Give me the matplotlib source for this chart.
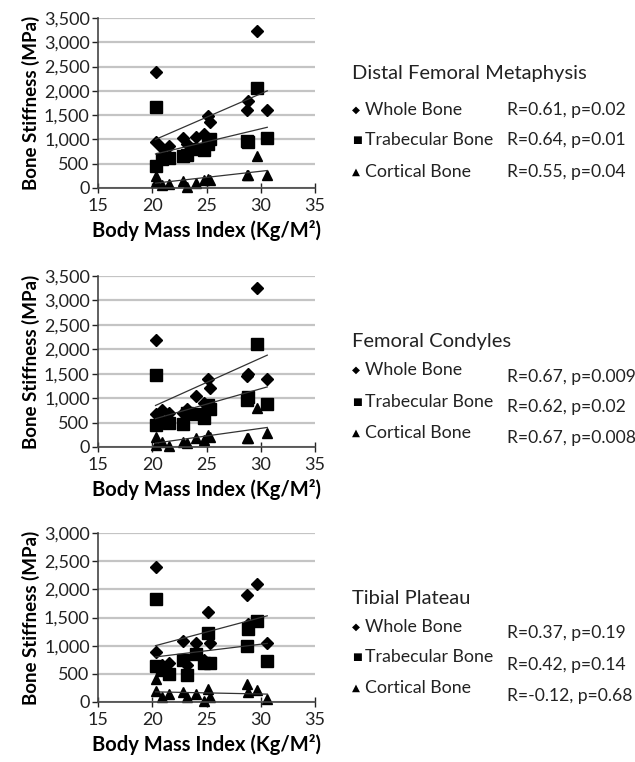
import matplotlib
matplotlib.use("Agg")
import matplotlib.pyplot as plt
from matplotlib.ticker import FuncFormatter

plt.rcParams['font.family'] = ['Lato', 'DejaVu Sans']

bmi = [20.3, 20.3, 20.9, 21.5, 22.8, 23.2, 24.0, 24.8, 25.1, 25.3, 28.7, 28.8, 29.7, 30.6]

# Distal Femoral Metaphysis
dfm_whole = [2380, 950, 820, 870, 1020, 900, 1050, 1120, 1480, 1350, 1600, 1800, 3230, 1600]
dfm_trab = [1670, 450, 600, 620, 650, 680, 800, 780, 900, 1000, 960, 950, 2050, 1030]
dfm_cort = [250, 130, 60, 80, 150, 30, 100, 170, 180, 160, 260, 260, 650, 260]
dfm_fit_x = [20.3, 30.6]
dfm_fit_whole = [1000, 2000]
dfm_fit_trab = [700, 1250]
dfm_fit_cort = [100, 360]

# Femoral Condyles
fc_whole = [2180, 680, 760, 700, 700, 780, 1050, 900, 1400, 1200, 1450, 1500, 3260, 1400]
fc_trab = [1470, 450, 520, 500, 480, 700, 680, 600, 850, 780, 960, 1020, 2100, 870]
fc_cort = [200, 50, 100, 20, 100, 80, 180, 150, 250, 200, 180, 180, 800, 280]
fc_fit_x = [20.3, 30.6]
fc_fit_whole = [850, 1880]
fc_fit_trab = [580, 1230]
fc_fit_cort = [80, 400]

# Tibial Plateau
tp_whole = [2400, 880, 650, 700, 1080, 650, 1050, 750, 1600, 1050, 1900, 1380, 2100, 1040]
tp_trab = [1820, 640, 560, 500, 750, 480, 850, 700, 1220, 700, 1000, 1300, 1440, 720]
tp_cort = [400, 200, 80, 150, 170, 80, 150, 20, 230, 80, 320, 180, 220, 50]
tp_fit_x = [20.3, 30.6]
tp_fit_whole = [1000, 1530]
tp_fit_trab = [800, 1040]
tp_fit_cort = [180, 140]

titles = ["Distal Femoral Metaphysis", "Femoral Condyles", "Tibial Plateau"]
series_names = ["Whole Bone", "Trabecular Bone", "Cortical Bone"]
stats = [["R=0.61, p=0.02", "R=0.64, p=0.01", "R=0.55, p=0.04"],
         ["R=0.67, p=0.009", "R=0.62, p=0.02", "R=0.67, p=0.008"],
         ["R=0.37, p=0.19", "R=0.42, p=0.14", "R=-0.12, p=0.68"]]
ymaxes = [3500, 3500, 3000]

panels = [
    (dfm_whole, dfm_trab, dfm_cort, dfm_fit_x, dfm_fit_whole, dfm_fit_trab, dfm_fit_cort),
    (fc_whole, fc_trab, fc_cort, fc_fit_x, fc_fit_whole, fc_fit_trab, fc_fit_cort),
    (tp_whole, tp_trab, tp_cort, tp_fit_x, tp_fit_whole, tp_fit_trab, tp_fit_cort),
]

W, H = 635, 762
fig = plt.figure(figsize=(W / 100, H / 100), dpi=100)

axes_px = [(98, 18, 217, 170), (98, 276, 217, 171), (98, 533, 217, 169)]
markers = ['D', 's', '^']
msizes = [6, 8, 7]
legend_layout = [
    (73, [110, 140, 172], [110, 140, 172]),
    (342, [370, 402, 433], [377, 407, 438]),
    (598, [627, 657, 688], [633, 665, 696]),
]
leg_syms = ["\u25C6", "\u25A0", "\u25B2"]

fmt = FuncFormatter(lambda v, p: f"{int(v):,}")

for i, (pdata, (l, t, w, h)) in enumerate(zip(panels, axes_px)):
    ax = fig.add_axes([l / W, 1 - (t + h) / H, w / W, h / H])
    whole, trab, cort, fx, fw, ft, fcort = pdata
    ax.set_xlim(15, 35)
    ax.set_ylim(0, ymaxes[i])
    ax.set_yticks(range(0, ymaxes[i] + 1, 500))
    ax.set_xticks([15, 20, 25, 30, 35])
    ax.yaxis.set_major_formatter(fmt)
    ax.grid(axis='y', color='#c4c4c4', linewidth=1.6)
    ax.set_axisbelow(True)
    for s in ['top', 'right']:
        ax.spines[s].set_visible(False)
    for s in ['left', 'bottom']:
        ax.spines[s].set_color('#444444')
        ax.spines[s].set_linewidth(1.2)
    ax.tick_params(axis='both', labelsize=13, colors='#222222', length=4, width=1.0, pad=2)
    ax.tick_params(axis='x', direction='inout', length=7, pad=4)
    for vals, m, ms in zip([whole, trab, cort], markers, msizes):
        ax.plot(bmi, vals, linestyle='none', marker=m, markersize=ms, color='black', clip_on=False)
    for fy in [fw, ft, fcort]:
        ax.plot(fx, fy, color='#333333', linewidth=0.9)
    ax.set_ylabel("Bone Stiffness (MPa)", fontsize=13.5, fontweight='bold', labelpad=3)
    ax.set_xlabel("Body Mass Index (Kg/M\u00b2)", fontsize=14.5, fontweight='bold', labelpad=4)

    ty, rows, srows = legend_layout[i]
    fig.text(352 / W, 1 - ty / H, titles[i], fontsize=14.5, va='center', ha='left', color='#222222')
    for j in range(3):
        fig.text(352 / W, 1 - rows[j] / H, leg_syms[j], fontsize=7.5, va='center', ha='left',
                 color='black', family='DejaVu Sans')
        fig.text(365 / W, 1 - rows[j] / H, series_names[j], fontsize=12.8, va='center', ha='left',
                 color='#222222')
        fig.text(507 / W, 1 - srows[j] / H, stats[i][j], fontsize=12.6, va='center', ha='left',
                 color='#222222')

fig.savefig("out.png", dpi=100, facecolor='white')
